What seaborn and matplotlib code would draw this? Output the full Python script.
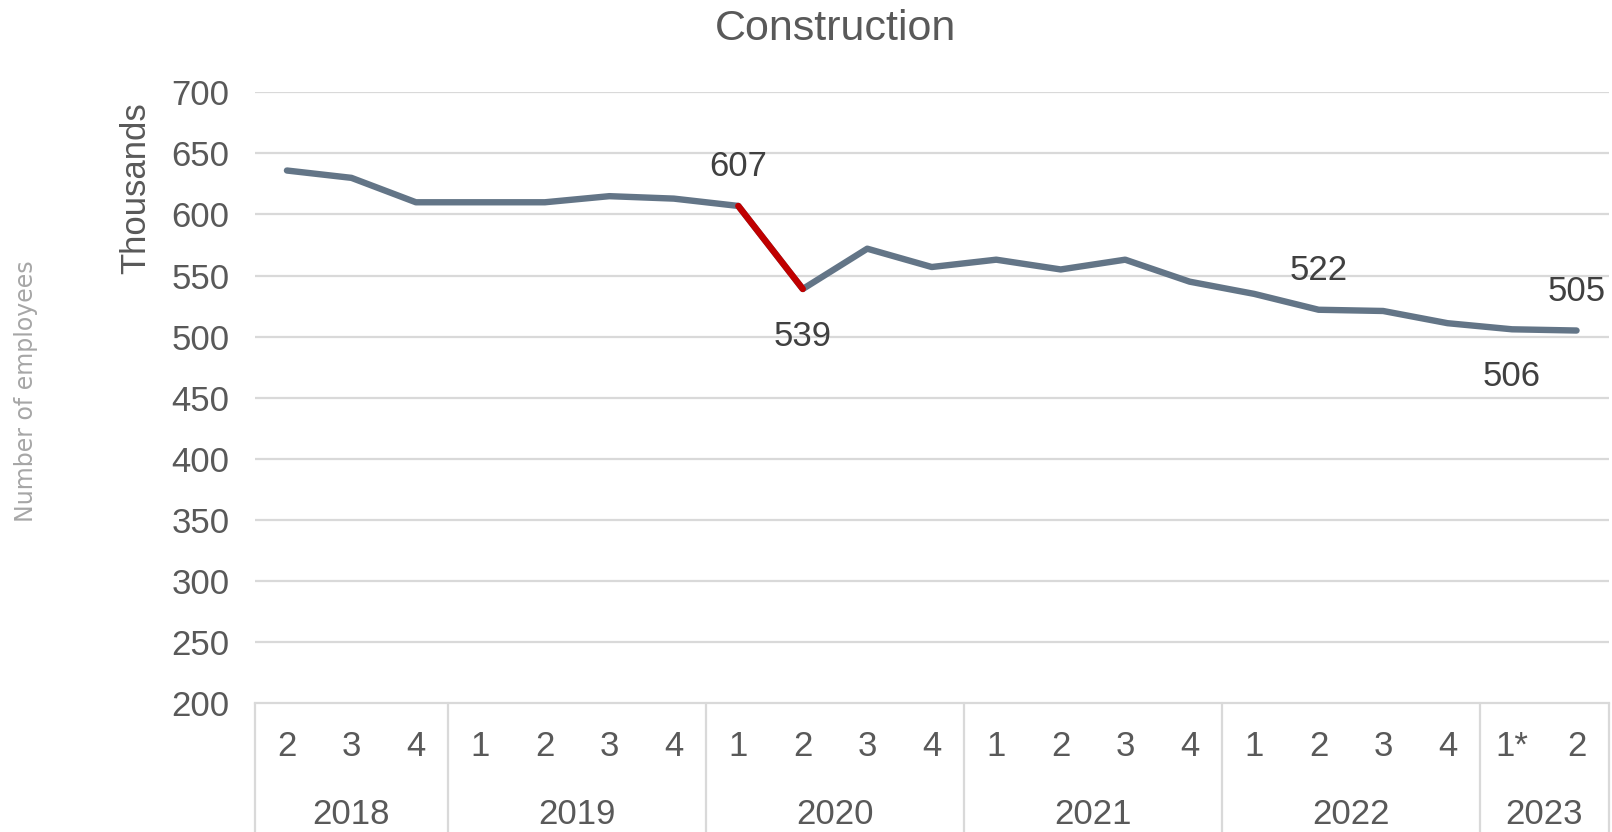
import numpy as np
import pandas as pd
import seaborn as sns
import matplotlib.pyplot as plt

# quarterly construction employment (thousands)
years = ["2018", "2019", "2020", "2021", "2022", "2023"]
quarters = ["2", "3", "4",
            "1", "2", "3", "4",
            "1", "2", "3", "4",
            "1", "2", "3", "4",
            "1", "2", "3", "4",
            "1*", "2"]
year_sizes = [3, 4, 4, 4, 4, 2]
employees = [636, 630, 610, 610, 610, 615, 613,
             607, 539, 572, 557, 563, 555, 563,
             545, 535, 522, 521, 511, 506, 505]
# which points carry a value label, and on which side
labels_idx = [7, 8, 16, 19, 20]
labels_pos = ["above", "below", "above", "below", "above"]

sns.set_theme(style="white")
plt.rcParams['font.family'] = ['Liberation Sans', 'DejaVu Sans']

txt = "#595959"
grid = "#D9D9D9"
blue = "#637587"
red = "#C00000"

df = pd.DataFrame({"idx": np.arange(len(employees)), "val": employees})

fig = plt.figure(figsize=(16.12, 8.32), dpi=100)
ax = fig.add_axes([0.158, 0.155, 0.840, 0.734])

for v in range(250, 701, 50):
    ax.axhline(v, color=grid, lw=1.6, zorder=0)

sns.lineplot(data=df, x="idx", y="val", ax=ax, color=blue, lw=4.6,
             solid_capstyle="round", zorder=3)
sns.lineplot(data=df.iloc[7:9], x="idx", y="val", ax=ax, color=red, lw=4.6,
             solid_capstyle="round", zorder=4)

ax.set_xlim(-0.5, len(employees) - 0.5)
ax.set_ylim(200, 700)
ax.set_yticks(range(200, 701, 50))
ax.tick_params(axis="y", labelsize=25, labelcolor=txt, length=0, pad=18)
ax.set_xticks([])
ax.set_xlabel("")
ax.set_ylabel("Thousands", fontsize=25, color=txt)
ax.yaxis.set_label_coords(-0.076, 0.843)
for s in ["top", "right", "left"]:
    ax.spines[s].set_visible(False)
ax.spines["bottom"].set_color(grid)
ax.spines["bottom"].set_linewidth(1.6)

# data labels
for i, pos in zip(labels_idx, labels_pos):
    dy = 32 if pos == "above" else -39
    ax.text(i, employees[i] + dy, str(employees[i]), ha="center", va="center",
            fontsize=25, color="#404040")

# category axis: quarters and years
tr = ax.get_xaxis_transform()
for i, q in enumerate(quarters):
    ax.text(i, -0.071, q, transform=tr, ha="center", va="center",
            fontsize=25, color=txt, clip_on=False)
start = 0
bounds = [-0.5]
for y, n in zip(years, year_sizes):
    ax.text(start + (n - 1) / 2, -0.182, y, transform=tr, ha="center",
            va="center", fontsize=25, color=txt, clip_on=False)
    start += n
    bounds.append(start - 0.5)
for b in bounds:
    ax.plot([b, b], [0, -0.22], transform=tr, color=grid, lw=1.6,
            clip_on=False)

fig.text(0.518, 0.965, "Construction", ha="center", va="center",
         fontsize=31, color=txt)
fig.text(0.016, 0.53, "Number of employees", rotation=90, ha="center",
         va="center", fontsize=17, color="#A6A6A6", family=["DejaVu Sans"])

fig.savefig("out.png", dpi=100)
